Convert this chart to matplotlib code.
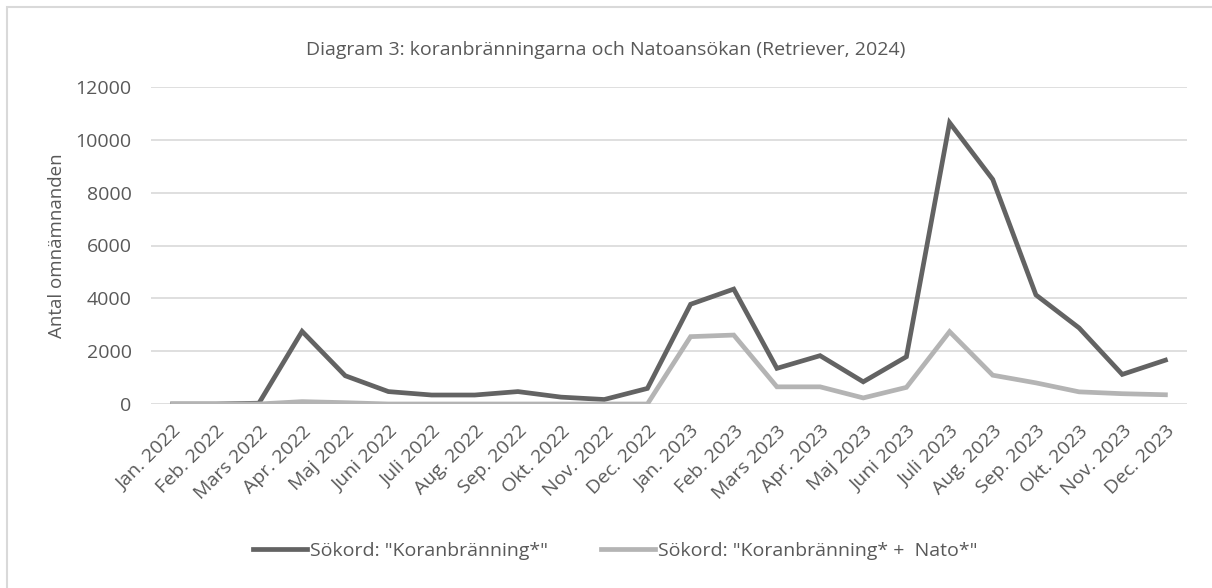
import matplotlib.pyplot as plt
from matplotlib.patches import Rectangle

# --- data ---
months = ["Jan. 2022", "Feb. 2022", "Mars 2022", "Apr. 2022", "Maj 2022", "Juni 2022",
          "Juli 2022", "Aug. 2022", "Sep. 2022", "Okt. 2022", "Nov. 2022", "Dec. 2022",
          "Jan. 2023", "Feb. 2023", "Mars 2023", "Apr. 2023", "Maj 2023", "Juni 2023",
          "Juli 2023", "Aug. 2023", "Sep. 2023", "Okt. 2023", "Nov. 2023", "Dec. 2023"]
koran = [0, 0, 30, 2750, 1070, 470, 340, 340, 470, 260, 170, 590,
         3775, 4350, 1350, 1830, 840, 1790, 10650, 8500, 4130, 2880, 1120, 1660]
koran_nato = [0, 0, 0, 90, 50, 0, 0, 0, 0, 0, 0, 0,
              2550, 2610, 650, 650, 230, 630, 2740, 1090, 800, 460, 390, 350]

plt.rcParams["font.family"] = ["Open Sans", "DejaVu Sans"]
txt = "#595959"

fig = plt.figure(figsize=(12.12, 5.88), dpi=100)
# light frame around the chart area
fig.patches.append(Rectangle((7 / 1212, -0.1), 1.2, (588 - 7) / 588 + 0.1,
                             transform=fig.transFigure, fill=False,
                             edgecolor="#d9d9d9", lw=1.5))

ax = fig.add_axes([151 / 1212, 1 - 404 / 588, (1187 - 151) / 1212, (404 - 87) / 588])
x = range(len(months))
ax.plot(x, koran, color="#636363", lw=3.4, solid_joinstyle="miter",
        label='Sökord: "Koranbränning*"')
ax.plot(x, koran_nato, color="#b4b4b4", lw=3.4, solid_joinstyle="miter",
        label='Sökord: "Koranbränning* +  Nato*"')

ax.set_xlim(-0.5, len(months) - 0.5)
ax.set_ylim(0, 12000)
ax.set_yticks(range(0, 12001, 2000))
ax.set_yticklabels([str(v) for v in range(0, 12001, 2000)], fontsize=14, color=txt)
ax.set_xticks(list(x))
ax.set_xticklabels(months, rotation=45, ha="right", rotation_mode="anchor",
                   fontsize=14, color=txt)
ax.tick_params(axis="y", length=0, pad=14)
ax.tick_params(axis="x", length=0, pad=13)
ax.grid(axis="y", color="#d9d9d9", lw=1.2)
ax.set_axisbelow(True)
for s in ax.spines.values():
    s.set_visible(False)

ax.set_ylabel("Antal omnämnanden", fontsize=13.5, color=txt, labelpad=7)
fig.text(0.5, 1 - 50 / 588, "Diagram 3: koranbränningarna och Natoansökan (Retriever, 2024)",
         ha="center", va="center", fontsize=14, color=txt)

fig.legend(loc="center", bbox_to_anchor=(615 / 1212, 1 - 551 / 588), ncol=2, frameon=False,
           fontsize=14, labelcolor=txt, handlelength=2.8, handletextpad=0.15,
           columnspacing=2.7)

fig.savefig("out.png", dpi=100)
